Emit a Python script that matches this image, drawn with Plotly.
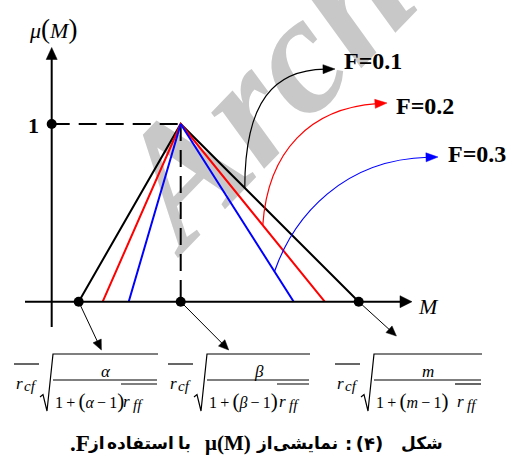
import plotly.graph_objects as go

# Triangular membership functions mu(M) for three values of F
f_values = [0.1, 0.2, 0.3]
line_colors = ["black", "red", "blue"]
left_feet = [0.27, 0.51, 0.77]
right_feet = [3.07, 2.73, 2.42]
peak_m = 1.29
peak_mu = 1.0
y_tick_label = "1"
# fraction of each right edge (from the peak) where its F arrow starts
arrow_start_frac = [0.36, 0.57, 0.83]
# symbols used in the three formulas under the M axis
formula_symbols = ["α", "β", "m"]

W, H = 507, 459
X0, XS = 51.7, 100.0    # pixel of M = 0, pixels per unit M
Y0, YS = 301.7, 177.7   # pixel of mu = 0, pixels per unit mu
SERIF = "Liberation Serif"


def to_px(m, mu):
    return X0 + m * XS, Y0 - mu * YS


def pp(x, y):
    return x / W, 1 - y / H


def path(points, close=False):
    parts = []
    for i, (x, y) in enumerate(points):
        u, v = pp(x, y)
        parts.append(("M" if i == 0 else "L") + f"{u:.5f},{v:.5f}")
    s = " ".join(parts)
    return s + (" Z" if close else "")


def bezier_path(p0, p1, p2, p3):
    a, b, c, d = (pp(*p) for p in (p0, p1, p2, p3))
    return (f"M{a[0]:.5f},{a[1]:.5f} C{b[0]:.5f},{b[1]:.5f} "
            f"{c[0]:.5f},{c[1]:.5f} {d[0]:.5f},{d[1]:.5f}")


shapes = []
annotations = []


def seg(p, q, color="black", width=1.0, dash=None):
    shapes.append(dict(type="path", xref="paper", yref="paper",
                       path=path([p, q]),
                       line=dict(color=color, width=width,
                                 dash=dash or "solid")))


def head(tip, direction, color="black", length=11.0, half=4.5):
    dx, dy = direction
    n = (dx * dx + dy * dy) ** 0.5
    dx, dy = dx / n, dy / n
    bx, by = tip[0] - length * dx, tip[1] - length * dy
    pts = [tip, (bx - half * dy, by + half * dx), (bx + half * dy, by - half * dx)]
    shapes.append(dict(type="path", xref="paper", yref="paper",
                       path=path(pts, close=True), fillcolor=color,
                       line=dict(color=color, width=0.5)))


def text(x, y, s, size=16, family=SERIF, color="black", anchor="center"):
    u, v = pp(x, y)
    annotations.append(dict(xref="paper", yref="paper", x=u, y=v, text=s,
                            showarrow=False, xanchor=anchor, yanchor="middle",
                            font=dict(family=family, size=size, color=color)))


fig = go.Figure()

# guide lines from mu = 1 to the peak and from the peak down to the M axis
fig.add_trace(go.Scatter(x=[0, peak_m], y=[peak_mu, peak_mu], mode="lines",
                         line=dict(color="black", width=2, dash="18px,9px"),
                         hoverinfo="skip"))
fig.add_trace(go.Scatter(x=[peak_m, peak_m], y=[peak_mu, 0], mode="lines",
                         line=dict(color="black", width=2, dash="17px,9px"),
                         hoverinfo="skip"))

# membership triangles
for lf, rf, col, f in zip(left_feet, right_feet, line_colors, f_values):
    fig.add_trace(go.Scatter(x=[lf, peak_m, rf], y=[0, peak_mu, 0],
                             mode="lines", name=f"F={f}",
                             line=dict(color=col, width=2)))

# marked points
dots_x = [0, left_feet[0], peak_m, right_feet[0]]
dots_y = [peak_mu, 0, 0, 0]
fig.add_trace(go.Scatter(x=dots_x, y=dots_y, mode="markers",
                         marker=dict(color="black", size=10),
                         hoverinfo="skip"))

# axes with arrow heads
ox, oy = to_px(0, 0)
seg((ox, 327), (ox, 58), width=2)
head((ox, 47.5), (0, -1), length=12, half=5.5)
seg((25, oy), (402, oy), width=2)
head((412, oy), (1, 0), length=12, half=6)

text(428, 306, "<i>M</i>", size=22)
text(53, 29, "<i>μ</i><span style='font-size:27px'>(</span><i>M</i>"
     "<span style='font-size:27px'>)</span>", size=22)
_, y1 = to_px(0, peak_mu)
text(33, y1 + 1, "<b>" + y_tick_label + "</b>", size=22)

# curved arrows pointing to the F labels
curve_ctrl = [
    ((0, -88), (30, -118), (335, 69), (373, 61)),
    ((5, -75), (48, -117), (387, 103), (425, 106)),
    ((20, -57), (70, -112), (438, 157), (477, 154)),
]
for frac, rf, col, f, ctrl in zip(arrow_start_frac, right_feet, line_colors,
                                  f_values, curve_ctrl):
    m = peak_m + frac * (rf - peak_m)
    mu = peak_mu * (1 - frac)
    sx, sy = to_px(m, mu)
    c1 = (sx + ctrl[0][0], sy + ctrl[0][1])
    c2 = (sx + ctrl[1][0], sy + ctrl[1][1])
    tip = ctrl[2]
    d = (tip[0] - c2[0], tip[1] - c2[1])
    n = (d[0] ** 2 + d[1] ** 2) ** 0.5
    end = (tip[0] - 10 * d[0] / n, tip[1] - 10 * d[1] / n)
    shapes.append(dict(type="path", xref="paper", yref="paper",
                       path=bezier_path((sx, sy), c1, c2, end),
                       line=dict(color=col, width=1.2)))
    head(tip, d, color=col, length=12, half=4.5)
    text(ctrl[3][0], ctrl[3][1], f"<b>F={f}</b>", size=24)

# straight arrows from the marked M values to their formulas
dot_offsets = [(22.7, 48.3), (48, 48.3), (37.7, 34.3)]
for mx, off in zip([left_feet[0], peak_m, right_feet[0]], dot_offsets):
    sx, sy = to_px(mx, 0)
    tip = (sx + off[0], sy + off[1])
    n = (off[0] ** 2 + off[1] ** 2) ** 0.5
    seg((sx, sy), (tip[0] - 8 * off[0] / n, tip[1] - 8 * off[1] / n), width=1)
    head(tip, off, length=10, half=4.5)


# formula  rcf * sqrt( s / (1 + (s - 1) rff) ) with overbars on r
TS = "\u2009"
def formula(R, E, sym, ff_off):
    seg((R - 27, 364), (R - 2, 364), width=1.2)
    text(R - 27, 383, "<i>r</i>", size=17, anchor="left")
    text(R - 19, 386, "<i>cf</i>", size=15, anchor="left")
    shapes.append(dict(type="path", xref="paper", yref="paper",
                       path=path([(R - 1, 397), (R + 2, 394.5), (R + 6, 411),
                                  (R + 12, 354), (E, 354)]),
                       line=dict(color="black", width=1.2)))
    text((R + 12 + E) / 2, 371, f"<i>{sym}</i>", size=17)
    seg((R + 12, 380), (E - 1, 380), width=1.2)
    text(R + 12, 401,
         f"1{TS}+{TS}<span style='font-size:21px'>(</span><i>{sym}</i>"
         f"{TS}−{TS}1<span style='font-size:21px'>)</span>",
         size=16, anchor="left")
    seg((R + ff_off, 384), (E - 1, 384), width=1.2)
    text(R + ff_off, 401, "<i>r</i>", size=17, anchor="left")
    text(R + ff_off + 10, 405, "<i>ff</i>", size=15, anchor="left")


formula(41, 158, formula_symbols[0], 80)
formula(195, 310, formula_symbols[1], 82)
formula(362, 482, formula_symbols[2], 93)

# caption: the right-to-left sentence is laid out word by word, left to right
CAP_Y = 443
PERSIAN = "DejaVu Sans"
caption_words = [
    (80, ".F", SERIF, 23),
    (96, "از", PERSIAN, 17),
    (140, "استفاده", PERSIAN, 17),
    (184, "با", PERSIAN, 17),
    (228, "μ(M)", SERIF, 21),
    (264, "از", PERSIAN, 17),
    (305, "نمایشی", PERSIAN, 17),
    (364, ":\u2009(۴)", PERSIAN, 18),
    (421.5, "شکل", PERSIAN, 17),
]
for cx, word, fam, sz in caption_words:
    text(cx, CAP_Y, f"<b>{word}</b>", size=sz, family=fam)

# faint watermark behind the drawing
wx, wy = pp(318, 5)
shapes.append(dict(type="rect", xref="paper", yref="paper",
                   x0=wx - 0.001, x1=wx + 0.001, y0=wy - 0.001, y1=wy + 0.001,
                   layer="below", line=dict(width=0),
                   fillcolor="rgba(0,0,0,0)",
                   label=dict(text="<b><i>Archive</i></b>",
                              font=dict(family=SERIF, size=168, color="#c8c8c8"),
                              textangle=-46, textposition="middle center")))

fig.update_layout(
    width=W, height=H, margin=dict(l=0, r=0, t=0, b=0),
    paper_bgcolor="white", plot_bgcolor="white", showlegend=False,
    xaxis=dict(range=[-X0 / XS, (W - X0) / XS], visible=False, fixedrange=True),
    yaxis=dict(range=[(Y0 - H) / YS, Y0 / YS], visible=False, fixedrange=True),
    shapes=shapes, annotations=annotations,
)

fig.write_html("out.html")
